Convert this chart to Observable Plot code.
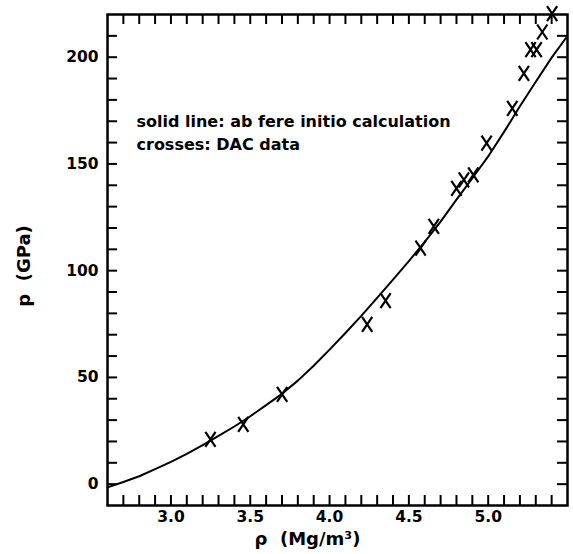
<!DOCTYPE html>
<html><head><meta charset="utf-8">
<script src="https://cdn.jsdelivr.net/npm/d3@7"></script>
<script src="https://cdn.jsdelivr.net/npm/@observablehq/plot@0.6"></script>
<style>html,body{margin:0;padding:0;background:#fff}</style>
</head><body><div id="chart"></div>
<script>
// ab fere initio calculation (solid line)
const lineRho = [2.60, 2.70, 2.80, 2.90, 3.00, 3.10, 3.20, 3.30, 3.40, 3.50, 3.60, 3.70, 3.80, 3.90, 4.00, 4.10, 4.20, 4.30, 4.40, 4.50, 4.60, 4.70, 4.80, 4.90, 5.00, 5.10, 5.20, 5.30, 5.40, 5.49];
const linePressure = [-1.5, 1.0, 3.7, 7.0, 10.4, 14.2, 18.3, 22.6, 27.0, 31.8, 37.0, 42.3, 48.5, 55.5, 63.0, 70.8, 78.8, 87.3, 95.8, 104.5, 113.5, 123.0, 133.3, 143.3, 153.5, 165.0, 177.0, 188.5, 199.8, 209.0];
// DAC data (crosses)
const dacRho = [3.249, 3.456, 3.701, 4.237, 4.353, 4.574, 4.657, 4.800, 4.847, 4.906, 4.990, 5.152, 5.225, 5.267, 5.305, 5.341, 5.403];
const dacPressure = [21.0, 28.0, 42.0, 74.8, 86.0, 110.6, 120.7, 138.6, 142.5, 144.9, 159.7, 176.0, 192.4, 203.6, 203.6, 211.8, 220.4];
// ticks
const xTicks = [2.7, 2.8, 2.9, 3.0, 3.1, 3.2, 3.3, 3.4, 3.5, 3.6, 3.7, 3.8, 3.9, 4.0, 4.1, 4.2, 4.3, 4.4, 4.5, 4.6, 4.7, 4.8, 4.9, 5.0, 5.1, 5.2, 5.3, 5.4];
const xTickLabels = [3.0, 3.5, 4.0, 4.5, 5.0];
const yTicks = [0, 10, 20, 30, 40, 50, 60, 70, 80, 90, 100, 110, 120, 130, 140, 150, 160, 170, 180, 190, 200, 210];
const yTickLabels = [0, 50, 100, 150, 200];
const annotation = "solid line: ab fere initio calculation\ncrosses: DAC data";
const xTitle = "ρ  (Mg/m³)";
const yTitle = "p  (GPa)";

const lineData = lineRho.map((r, i) => ({rho: r, p: linePressure[i]}));
const dacData = dacRho.map((r, i) => ({rho: r, p: dacPressure[i]}));

// tall "X" cross symbol
const crossSymbol = {
  draw(context, size) {
    const r = Math.sqrt(size / Math.PI);
    const w = r * 0.68;
    context.moveTo(-w, -r); context.lineTo(w, r);
    context.moveTo(w, -r); context.lineTo(-w, r);
  }
};

const W = 573, H = 554, mL = 107, mR = 6, mT = 14, mB = 49;
const fw = W - mL - mR, fh = H - mT - mB;
const tickLen = 10;

const chart = Plot.plot({
  width: W, height: H,
  marginLeft: mL, marginRight: mR, marginTop: mT, marginBottom: mB,
  style: {fontFamily: "'DejaVu Sans', sans-serif", fontSize: "16px", fontWeight: "bold", background: "#fff", color: "#000"},
  x: {domain: [2.6, 5.5]},
  y: {domain: [-10, 220]},
  marks: [
    Plot.tickX(xTicks, {x: d => d, insetTop: fh - tickLen, stroke: "#000", strokeWidth: 2}),
    Plot.tickX(xTicks, {x: d => d, insetBottom: fh - tickLen, stroke: "#000", strokeWidth: 2}),
    Plot.tickY(yTicks, {y: d => d, insetRight: fw - tickLen, stroke: "#000", strokeWidth: 2}),
    Plot.tickY(yTicks, {y: d => d, insetLeft: fw - tickLen, stroke: "#000", strokeWidth: 2}),
    Plot.axisX(xTickLabels, {tickSize: 0, tickPadding: 5, tickFormat: d3.format(".1f"), label: null, fontSize: 15.5, fontWeight: "bold"}),
    Plot.axisY(yTickLabels, {tickSize: 0, tickPadding: 9, label: null, fontSize: 15.5, fontWeight: "bold"}),
    Plot.line(lineData, {x: "rho", y: "p", stroke: "#000", strokeWidth: 2}),
    Plot.dot(dacData, {x: "rho", y: "p", symbol: crossSymbol, r: 7.5, stroke: "#000", strokeWidth: 2.2, fill: "none"}),
    Plot.frame({stroke: "#000", strokeWidth: 2.5}),
    Plot.text([annotation], {frameAnchor: "top-left", textAnchor: "start", lineAnchor: "top", dx: 29, dy: 96, fontSize: 16, fontWeight: "bold", lineHeight: 1.45, fill: "#000"}),
    Plot.text([xTitle], {frameAnchor: "bottom-left", textAnchor: "start", lineAnchor: "middle", dx: 147, dy: 34, fontSize: 18, fontWeight: "bold", fill: "#000"}),
    Plot.text([yTitle], {frameAnchor: "left", textAnchor: "middle", lineAnchor: "middle", rotate: -90, dx: -83, dy: 6, fontSize: 18, fontWeight: "bold", fill: "#000"})
  ]
});
document.getElementById("chart").appendChild(chart);
</script>
</body></html>
